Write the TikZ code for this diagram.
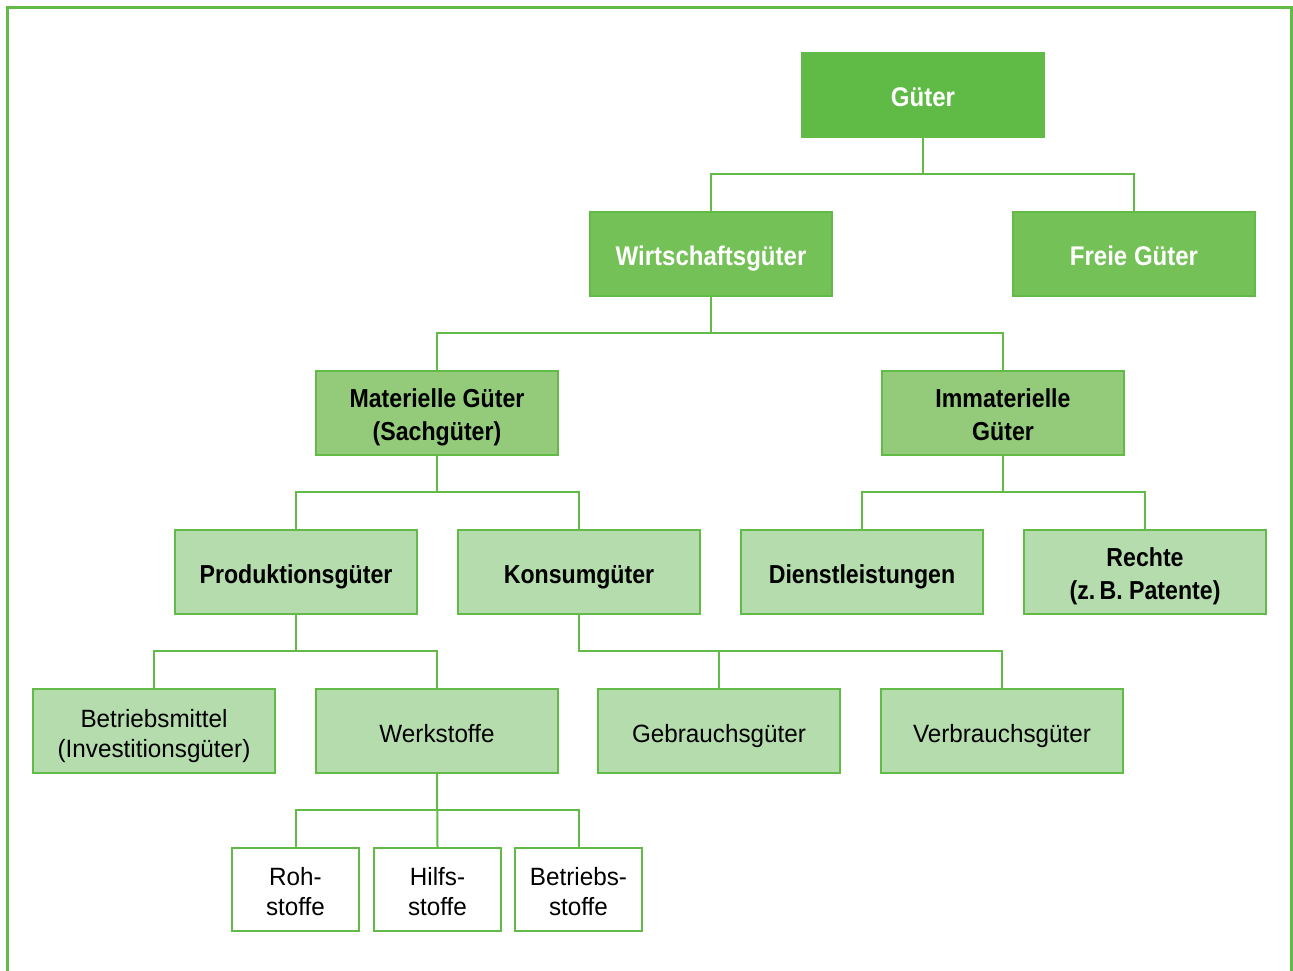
\documentclass[tikz,border=0pt]{standalone}
\usepackage{fontspec}
\setmainfont{Liberation Sans}[FakeStretch=0.97]
\newfontfamily\bfnarrow{Liberation Sans Bold}[FakeStretch=0.89]
\newcommand\mystrut{\rule[-0.25em]{0pt}{1.38em}}
\begin{document}
\begin{tikzpicture}[x=1pt,y=-1pt,
  box/.style={draw=gborder,line width=2pt,minimum width=242pt,minimum height=84pt,align=center,inner sep=0pt,
    execute at begin node={\mystrut},execute at end node={\mystrut}},
  small/.style={draw=gborder,line width=2pt,minimum width=127pt,minimum height=83pt,align=center,fill=white,inner sep=0pt,
    font=\fontsize{25}{30}\selectfont,execute at begin node={\mystrut},execute at end node={\mystrut}},
  lvA/.style={box,fill=g1,text=white,font=\bfnarrow\fontsize{27}{33}\selectfont},
  lvB/.style={box,fill=g2,text=white,font=\bfnarrow\fontsize{27}{33}\selectfont},
  lvC/.style={box,fill=g3,font=\bfnarrow\fontsize{26}{33}\selectfont},
  lvD/.style={box,fill=g4,font=\bfnarrow\fontsize{26}{33}\selectfont},
  lvE/.style={box,fill=g4,font=\fontsize{25}{30}\selectfont},
  conn/.style={draw=gborder,line width=2pt}]
\definecolor{gborder}{HTML}{62BB46}
\definecolor{g1}{HTML}{5FBA46}
\definecolor{g2}{HTML}{74C157}
\definecolor{g3}{HTML}{93CB7B}
\definecolor{g4}{HTML}{B5DCAD}
\useasboundingbox (0,0) rectangle (1293,971);
\draw[gborder,line width=3pt] (7,973) -- (7,8) -- (1291,8) -- (1291,973);

\node[lvA] (gueter) at (923,95) {Güter};
\node[lvB] (wirt) at (711,254) {Wirtschaftsgüter};
\node[lvB] (frei) at (1134,254) {Freie Güter};
\node[lvC] (mat) at (437,413) {\mystrut Materielle Güter\\(Sachgüter)};
\node[lvC] (imm) at (1003,413) {\mystrut Immaterielle\\Güter};
\node[lvD] (prod) at (296,572) {Produktionsgüter};
\node[lvD] (kons) at (579,572) {Konsumgüter};
\node[lvD] (dienst) at (862,572) {Dienstleistungen};
\node[lvD] (rechte) at (1145,572) {\mystrut Rechte\\(z.\,B. Patente)};
\node[lvE] (bm) at (154,731) {\mystrut Betriebsmittel\\(Investitionsgüter)};
\node[lvE] (werk) at (437,731) {Werkstoffe};
\node[lvE] (gebr) at (719,731) {Gebrauchsgüter};
\node[lvE] (verb) at (1002,731) {Verbrauchsgüter};
\node[small] (roh) at (295.5,889.5) {\mystrut Roh-\\stoffe};
\node[small] (hilf) at (437.5,889.5) {\mystrut Hilfs-\\stoffe};
\node[small] (betr) at (578.5,889.5) {\mystrut Betriebs-\\stoffe};

\draw[conn] (gueter.south) |- (711,174) -- (wirt.north);
\draw[conn] (gueter.south) |- (1134,174) -- (frei.north);
\draw[conn] (wirt.south) |- (437,333) -- (mat.north);
\draw[conn] (wirt.south) |- (1003,333) -- (imm.north);
\draw[conn] (mat.south) |- (296,492) -- (prod.north);
\draw[conn] (mat.south) |- (579,492) -- (kons.north);
\draw[conn] (imm.south) |- (862,492) -- (dienst.north);
\draw[conn] (imm.south) |- (1145,492) -- (rechte.north);
\draw[conn] (prod.south) |- (154,651) -- (bm.north);
\draw[conn] (prod.south) |- (437,651) -- (werk.north);
\draw[conn] (kons.south) |- (719,651) -- (gebr.north);
\draw[conn] (kons.south) |- (1002,651) -- (verb.north);
\draw[conn] (werk.south) |- (295.5,810) -- (roh.north);
\draw[conn] (werk.south) -- (hilf.north);
\draw[conn] (werk.south) |- (578.5,810) -- (betr.north);
\end{tikzpicture}
\end{document}
